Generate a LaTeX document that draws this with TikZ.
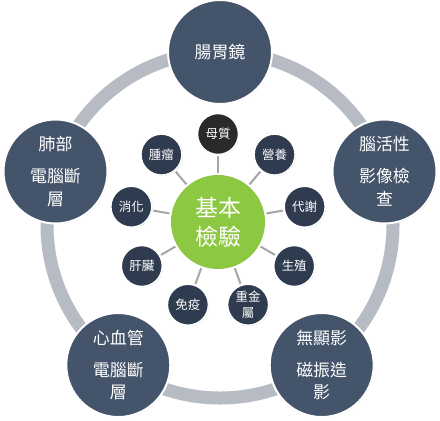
\documentclass[tikz,border=0pt]{standalone}
\usepackage{fontspec}
\newfontfamily\cjk{Noto Sans CJK TC}
\usetikzlibrary{shadows,calc}
\definecolor{outerc}{HTML}{44546A}
\definecolor{satc}{HTML}{2F3B4F}
\definecolor{motherc}{HTML}{2A2A2A}
\definecolor{greenc}{HTML}{8DC843}
\definecolor{ringc}{HTML}{B7BBC3}
\definecolor{spokec}{HTML}{A6A6A6}
\begin{document}
\begin{tikzpicture}[x=1bp,y=-1bp,
  outer/.style={circle,fill=outerc,draw=white,line width=2bp,minimum size=104bp,inner sep=0pt,
    text=white,align=center,font=\cjk\fontsize{17}{23}\selectfont,
    drop shadow={opacity=0.25,shadow xshift=0.8bp,shadow yshift=-0.8bp}},
  sat/.style={circle,fill=satc,draw=white,line width=1.5bp,minimum size=41bp,inner sep=0pt,
    text=white,align=center,font=\cjk\fontsize{12.5}{16}\selectfont,
    drop shadow={opacity=0.25,shadow xshift=0.8bp,shadow yshift=-0.8bp}},
  hub/.style={circle,fill=greenc,minimum size=94bp,inner sep=0pt,
    text=white,align=center,font=\cjk\fontsize{23}{29}\selectfont},
  spoke/.style={draw=spokec,line width=2bp}]
\useasboundingbox (0,0) rectangle (440,420);
\fill[white] (0,0) rectangle (440,420);
\coordinate (C) at (220,225);
\coordinate (c) at (218,222);
% ring
\draw[ringc,line width=13bp] (C) circle[radius=173];
% hub and satellites
\node[hub] (h) at (c) {基本\\檢驗};
\node[sat,fill=motherc] (s1) at ($(c)+(-90:88)$) {母質};
\node[sat] (s2) at ($(c)+(-50:88)$) {營養};
\node[sat] (s3) at ($(c)+(-10:88)$) {代謝};
\node[sat] (s4) at ($(c)+(30:88)$) {生殖};
\node[sat] (s5) at ($(c)+(70:88)$) {重金\\屬};
\node[sat] (s6) at ($(c)+(110:88)$) {免疫};
\node[sat] (s7) at ($(c)+(150:88)$) {肝臟};
\node[sat] (s8) at ($(c)+(190:88)$) {消化};
\node[sat] (s9) at ($(c)+(230:88)$) {腫瘤};
\foreach \s in {s1,s2,s3,s4,s5,s6,s7,s8,s9}{
  \draw[spoke,shorten <=2bp,shorten >=1bp] (h) -- (\s);
}
% outer circles
\node[outer] (o1) at (220,52) {腸胃鏡};
\node[outer] (o2) at (384.5,171.5) {腦活性\\[9bp]影像檢\\查};
\node[outer] (o3) at (321.7,365) {無顯影\\[9bp]磁振造\\影};
\node[outer] (o4) at (118.3,365) {心血管\\[9bp]電腦斷\\層};
\node[outer] (o5) at (55.5,171.5) {肺部\\[9bp]電腦斷\\層};
\end{tikzpicture}
\end{document}
